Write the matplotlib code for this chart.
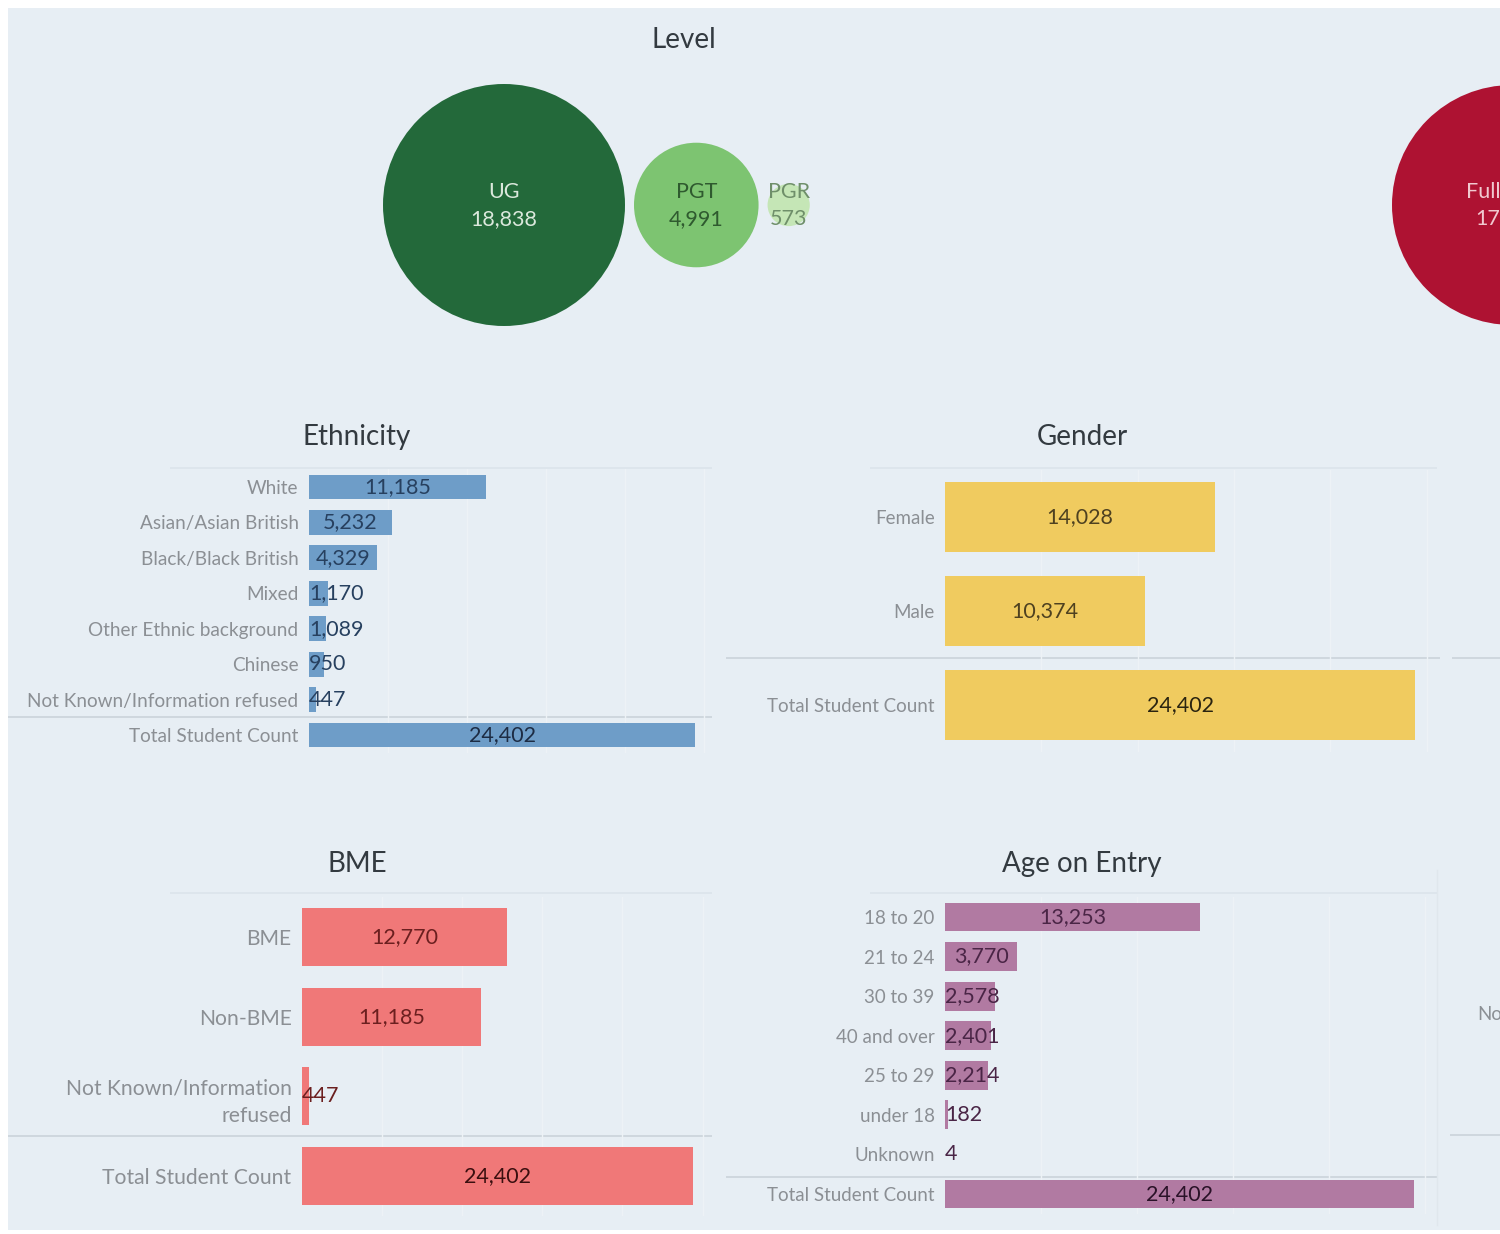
import matplotlib
matplotlib.use("Agg")
import matplotlib.pyplot as plt
from matplotlib.patches import Circle, Rectangle
import numpy as np

plt.rcParams['font.family'] = ['Lato', 'DejaVu Sans']

# ---------------- data ----------------
level_names = ["UG", "PGT", "PGR"]
level_values = [18838, 4991, 573]

# right-hand bubble chart, only partly visible at the picture's edge
mode_label_visible = "Full"
mode_value_visible = "17"

eth_cats = ["White", "Asian/Asian British", "Black/Black British", "Mixed",
            "Other Ethnic background", "Chinese", "Not Known/Information refused",
            "Total Student Count"]
eth_vals = [11185, 5232, 4329, 1170, 1089, 950, 447, 24402]

gender_cats = ["Female", "Male", "Total Student Count"]
gender_vals = [14028, 10374, 24402]

bme_cats = ["BME", "Non-BME", "Not Known/Information\nrefused", "Total Student Count"]
bme_vals = [12770, 11185, 447, 24402]

age_cats = ["18 to 20", "21 to 24", "30 to 39", "40 and over", "25 to 29",
            "under 18", "Unknown", "Total Student Count"]
age_vals = [13253, 3770, 2578, 2401, 2214, 182, 4, 24402]

# ---------------- figure ----------------
W, H = 1500, 1234
fig = plt.figure(figsize=(W / 100, H / 100), dpi=100)
fig.patch.set_facecolor("white")
BG = "#e7eef4"

bg = fig.add_axes([0, 0, 1, 1])
bg.set_xlim(0, W)
bg.set_ylim(H, 0)
bg.axis("off")
bg.add_patch(Rectangle((8, 8), W - 8, 1222, facecolor=BG, edgecolor="none", zorder=0))

TITLE_C = "#333a40"
LABEL_C = "#8b8f94"

def title(x, y, s):
    bg.text(x, y, s, ha="center", va="center", fontsize=20, color=TITLE_C)

title(684, 40, "Level")
title(357, 437, "Ethnicity")
title(1082, 437, "Gender")
title(357, 864, "BME")
title(1082, 864, "Age on Entry")

# ---------------- bubbles ----------------
k = 121 / np.sqrt(max(level_values))
level_colors = ["#23693a", "#7dc471", "#c5e6b6"]
level_text = ["#dbe8dc", "#2f5a2f", "#6f8f6a"]
gap = 9
cx = 504
cy = 205
prev_r = None
for i, (n, v) in enumerate(zip(level_names, level_values)):
    r = k * np.sqrt(v)
    if prev_r is not None:
        cx = cx + prev_r + gap + r
    bg.add_patch(Circle((cx, cy), r, facecolor=level_colors[i], edgecolor="none", zorder=2))
    bg.text(cx, cy - 13, n, ha="center", va="center", fontsize=15.5, color=level_text[i], zorder=3)
    bg.text(cx, cy + 14, f"{v:,}", ha="center", va="center", fontsize=15.5, color=level_text[i], zorder=3)
    prev_r = r

bg.add_patch(Circle((1512, cy), 120, facecolor="#ae1232", edgecolor="none", zorder=2))
bg.text(1466, cy - 13, mode_label_visible, ha="left", va="center", fontsize=15.5,
        color="#f1c9d0", zorder=3)
bg.text(1475, cy + 14, mode_value_visible, ha="left", va="center", fontsize=15.5,
        color="#f1c9d0", zorder=3)

bg.text(1477, 1015, "No", ha="left", va="center", fontsize=13.5, color=LABEL_C)

# ---------------- separator / border lines ----------------
SEP = "#cbd3da"
FAINT = "#dce4eb"
def hline(y, x0, x1, c=SEP, lw=1.2):
    bg.plot([x0, x1], [y, y], color=c, lw=lw, zorder=1, solid_capstyle="butt")

hline(468, 170, 712, FAINT)
hline(717, 8, 712)
hline(468, 870, 1437, FAINT)
hline(658, 726, 1440)
hline(658, 1452, 1500)
hline(893, 170, 712, FAINT)
hline(1136, 8, 712)
hline(893, 870, 1437, FAINT)
hline(1177, 726, 1437)
hline(1135, 1450, 1500)
bg.plot([1437, 1437], [870, 1225], color="#e0e7ed", lw=1.0, zorder=1)

# ---------------- bar panels ----------------
XMAX = 25500

def panel(cats, vals, x0, x_total_end, y_first, y_last, bar_h, color, txt_c, tot_c,
          fs=15.5, lfs=13.5, lsp=1.2):
    n = len(cats)
    spacing = (y_last - y_first) / (n - 1)
    top = y_first - spacing / 2
    bot = y_last + spacing / 2
    scale = (x_total_end - x0) / vals[-1]
    width = XMAX * scale
    ax = fig.add_axes([x0 / W, 1 - bot / H, width / W, (bot - top) / H])
    ax.patch.set_alpha(0)
    ypos = np.arange(n)
    ax.barh(ypos, vals, height=bar_h, color=color, zorder=2)
    ax.set_xlim(0, XMAX)
    ax.set_ylim(n - 0.5, -0.5)
    for s in ax.spines.values():
        s.set_visible(False)
    ax.set_xticks([5000, 10000, 15000, 20000, 25000])
    ax.xaxis.grid(True, color="#edf2f6", lw=1.0, zorder=0)
    ax.tick_params(axis="x", length=0, labelbottom=False)
    ax.set_yticks(ypos)
    ax.set_yticklabels(cats, fontsize=lfs, color=LABEL_C, multialignment="right",
                       linespacing=lsp)
    ax.tick_params(axis="y", length=0, pad=7.5)
    fig.canvas.draw()
    r = fig.canvas.get_renderer()
    for i, v in enumerate(vals):
        c = tot_c if i == n - 1 else txt_c
        t = ax.text(v / 2, i, f"{v:,}", ha="center", va="center", fontsize=fs, color=c, zorder=3)
        tw = t.get_window_extent(renderer=r).width
        bw = v * scale
        if tw + 4 > bw:
            t.set_x(0)
            t.set_ha("left")
    return ax

panel(eth_cats, eth_vals, 309, 695, 487, 735, 0.70, "#6e9dc8", "#27405f", "#1d2c44", lfs=13.7)
panel(gender_cats, gender_vals, 945, 1415, 517, 705, 0.75, "#f0cb5f", "#4e4120", "#2a2410")
panel(bme_cats, bme_vals, 302, 693, 937, 1176, 0.73, "#f07878", "#6b1f1f", "#3b0f0f",
      lfs=15.2, lsp=1.5)
panel(age_cats, age_vals, 945, 1414, 917, 1194, 0.73, "#b17aa2", "#4a2546", "#2a1228")

fig.savefig("out.png", dpi=100, facecolor=fig.get_facecolor())
